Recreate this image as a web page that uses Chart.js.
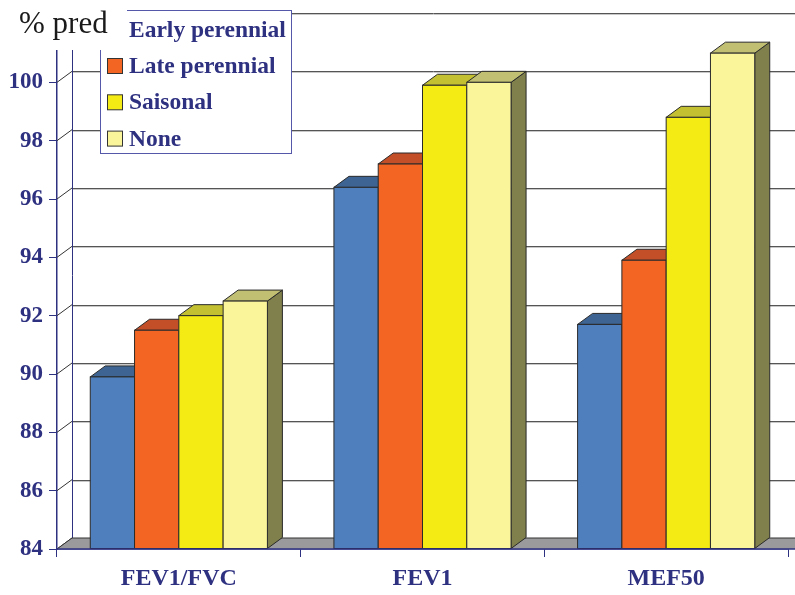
<!DOCTYPE html>
<html>
<head>
<meta charset="utf-8">
<script src="https://cdn.jsdelivr.net/npm/chart.js@4/dist/chart.umd.min.js"></script>
<style>
  html, body { margin: 0; padding: 0; background: #ffffff; }
  #wrap { width: 795px; height: 595px; }
</style>
</head>
<body>
<div id="wrap"><canvas id="c" width="795" height="595"></canvas></div>
<script>
// Lung function (% predicted) by type of allergy
const categories = ['FEV1/FVC', 'FEV1', 'MEF50'];
const seriesNames = ['Early perennial', 'Late perennial', 'Saisonal', 'None'];
const earlyPerennial = [89.9, 96.4, 91.7];
const latePerennial  = [91.5, 97.2, 93.9];
const saisonal       = [92.0, 99.9, 98.8];
const none           = [92.5, 100.0, 101.0];
const yMin = 84, yMax = 102, yStep = 2;
const axisTitle = '% pred';

// face colours for each series: front, top, right side
const faceColors = [
  { front: '#4f80bd', top: '#3d6492', side: '#2f4f75' },
  { front: '#f26522', top: '#c24f28', side: '#8f3a1c' },
  { front: '#f5eb14', top: '#c3c032', side: '#8c8a2a' },
  { front: '#faf49b', top: '#c0bf72', side: '#80804c' }
];
const NAVY = '#2e3080';
const DX = 15, DY = 11;   // depth offset of the 3D box

const seriesValues = [earlyPerennial, latePerennial, saisonal, none];

const box3d = {
  id: 'box3d',
  beforeDatasetsDraw(chart) {
    const ctx = chart.ctx;
    const ys = chart.scales.y;
    const area = chart.chartArea;
    const W = chart.width;
    const baseY = ys.getPixelForValue(yMin);
    const left = area.left;
    ctx.save();

    // back-wall grid lines
    for (let v = yMin + yStep; v <= yMax; v += yStep) {
      const yb = Math.round(ys.getPixelForValue(v) - DY) + 0.5;
      ctx.strokeStyle = '#c8c8c8';
      ctx.lineWidth = 1;
      ctx.beginPath(); ctx.moveTo(left + DX, yb + 1); ctx.lineTo(W, yb + 1); ctx.stroke();
      ctx.strokeStyle = '#555555';
      ctx.beginPath(); ctx.moveTo(left + DX, yb); ctx.lineTo(W, yb); ctx.stroke();
    }
    // back wall left edge
    ctx.strokeStyle = NAVY;
    ctx.lineWidth = 1;
    ctx.beginPath();
    ctx.moveTo(left + DX + 0.5, ys.getPixelForValue(yMax) - DY);
    ctx.lineTo(left + DX + 0.5, baseY - DY);
    ctx.stroke();
    // tick connectors from front axis to back wall
    ctx.strokeStyle = '#333333';
    for (let v = yMin; v <= yMax; v += yStep) {
      const yf = ys.getPixelForValue(v);
      ctx.beginPath(); ctx.moveTo(left, yf); ctx.lineTo(left + DX, yf - DY); ctx.stroke();
    }
    // floor
    ctx.fillStyle = '#9a9a9c';
    ctx.beginPath();
    ctx.moveTo(left, baseY);
    ctx.lineTo(W + 20, baseY);
    ctx.lineTo(W + 20 + DX, baseY - DY);
    ctx.lineTo(left + DX, baseY - DY);
    ctx.closePath();
    ctx.fill();
    ctx.strokeStyle = '#333333';
    ctx.beginPath();
    ctx.moveTo(left, baseY);
    ctx.lineTo(left + DX, baseY - DY);
    ctx.lineTo(W + 20, baseY - DY);
    ctx.stroke();

    // bars, left to right so each front face hides its neighbour's side
    ctx.lineWidth = 1;
    ctx.lineJoin = 'miter';
    for (let i = 0; i < categories.length; i++) {
      for (let d = 0; d < chart.data.datasets.length; d++) {
        const el = chart.getDatasetMeta(d).data[i];
        const p = el.getProps(['x', 'y', 'base', 'width'], true);
        const l = p.x - p.width / 2, r = p.x + p.width / 2;
        const t = p.y, b = Math.min(p.base, baseY);
        const c = faceColors[d];
        ctx.strokeStyle = '#2a2a2a';
        // side
        ctx.fillStyle = c.side;
        ctx.beginPath();
        ctx.moveTo(r, t); ctx.lineTo(r + DX, t - DY); ctx.lineTo(r + DX, b - DY); ctx.lineTo(r, b);
        ctx.closePath(); ctx.fill(); ctx.stroke();
        // top
        ctx.fillStyle = c.top;
        ctx.beginPath();
        ctx.moveTo(l, t); ctx.lineTo(l + DX, t - DY); ctx.lineTo(r + DX, t - DY); ctx.lineTo(r, t);
        ctx.closePath(); ctx.fill(); ctx.stroke();
        // front
        ctx.fillStyle = c.front;
        ctx.fillRect(l, t, r - l, b - t);
        ctx.strokeRect(l, t, r - l, b - t);
      }
    }

    // front base line across the full width
    ctx.strokeStyle = NAVY;
    ctx.lineWidth = 1.5;
    ctx.beginPath(); ctx.moveTo(left, baseY); ctx.lineTo(W, baseY); ctx.stroke();
    ctx.restore();
    return false;
  },
  afterDraw(chart) {
    const ctx = chart.ctx;
    ctx.save();
    // legend box
    const lx = 100, ly = 10, lw = 191, lh = 143;
    ctx.fillStyle = '#ffffff';
    ctx.fillRect(lx, ly, lw, lh);
    ctx.strokeStyle = '#5558a8';
    ctx.lineWidth = 1;
    ctx.strokeRect(lx + 0.5, ly + 0.5, lw, lh);
    const rowY = [30, 66, 102.3, 138.6];
    ctx.font = 'bold 23.5px "Liberation Serif", "Times New Roman", serif';
    ctx.textBaseline = 'middle';
    ctx.textAlign = 'left';
    chart.data.datasets.forEach((ds, k) => {
      const cy = rowY[k];
      ctx.fillStyle = ds.backgroundColor;
      ctx.fillRect(107, cy - 7.5, 15, 15);
      ctx.strokeStyle = '#333333';
      ctx.strokeRect(107.5, cy - 7.5, 15, 15);
      ctx.fillStyle = NAVY;
      ctx.fillText(ds.label, 129, cy + 1);
    });
    // axis title with its own white backing
    ctx.fillStyle = '#ffffff';
    ctx.fillRect(0, 0, 127, 50);
    ctx.fillStyle = '#1a1a1a';
    ctx.font = '31px "Liberation Serif", "Times New Roman", serif';
    ctx.textBaseline = 'alphabetic';
    ctx.fillText(axisTitle, 19, 33);
    ctx.restore();
  }
};

const datasets = seriesValues.map((vals, k) => ({
  label: seriesNames[k],
  data: vals,
  base: yMin,
  backgroundColor: faceColors[k].front,
  borderWidth: 0
}));

new Chart(document.getElementById('c'), {
  type: 'bar',
  data: { labels: categories, datasets },
  plugins: [box3d],
  options: {
    responsive: false,
    animation: false,
    devicePixelRatio: 1,
    layout: { padding: { top: 24, right: 7, left: 0, bottom: 0 } },
    datasets: { bar: { categoryPercentage: 0.727, barPercentage: 1.0 } },
    plugins: { legend: { display: false }, tooltip: { enabled: false } },
    scales: {
      x: {
        afterFit(s) { s.height = 46; },
        grid: { offset: true, drawOnChartArea: false, drawTicks: true, tickLength: 8, color: NAVY },
        border: { display: true, color: NAVY, width: 1.5 },
        ticks: {
          color: NAVY, padding: 7,
          font: { family: '"Liberation Serif", "Times New Roman", serif', size: 24, weight: 'bold' }
        }
      },
      y: {
        min: yMin, max: yMax,
        afterFit(s) { s.width = 57; },
        grid: { drawOnChartArea: false, drawTicks: true, tickLength: 8, color: NAVY },
        border: { display: true, color: NAVY, width: 1.5 },
        ticks: {
          stepSize: yStep, color: NAVY, padding: 6,
          font: { family: '"Liberation Serif", "Times New Roman", serif', size: 23, weight: 'bold' }
        }
      }
    }
  }
});
</script>
</body>
</html>
